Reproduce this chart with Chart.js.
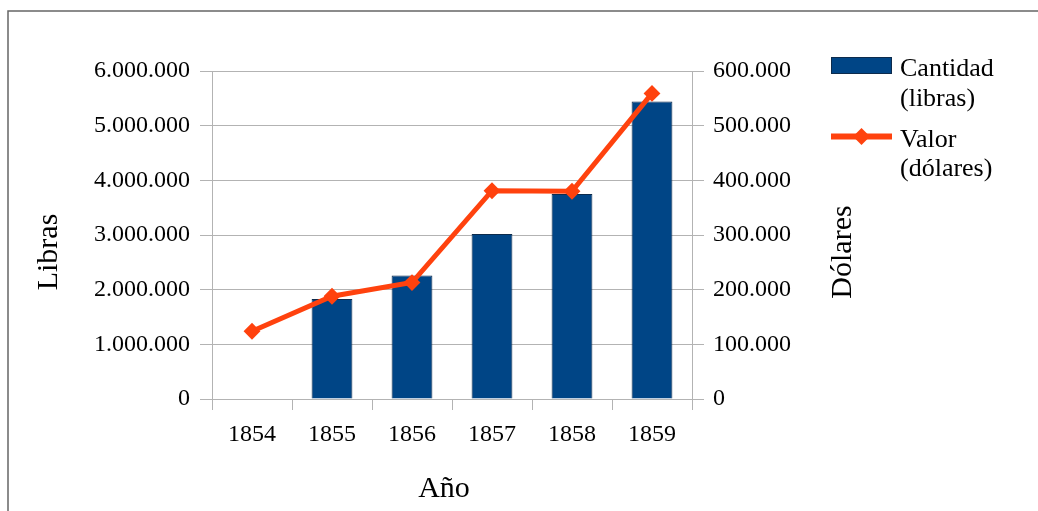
<!DOCTYPE html>
<html lang="es">
<head>
<meta charset="utf-8">
<title>Cantidad y valor por año</title>
<script src="https://cdn.jsdelivr.net/npm/chart.js@4/dist/chart.umd.min.js"></script>
<style>
  html, body { margin: 0; padding: 0; background: #ffffff; }
  #wrap { width: 1038px; height: 511px; }
</style>
</head>
<body>
<div id="wrap"><canvas id="chart" width="1038" height="511"></canvas></div>
<script>
// Years on the category axis
const years = ['1854', '1855', '1856', '1857', '1858', '1859'];
// Quantity in pounds (bars, left axis); no bar for 1854
const cantidadLibras = [null, 1830000, 2260000, 3020000, 3750000, 5440000];
// Value in dollars (line, right axis)
const valorDolares = [124000, 188000, 213000, 381000, 380000, 559000];

// Legend entries, one line of text per row
const legendCantidad = ['Cantidad', '(libras)'];
const legendValor = ['Valor', '(dólares)'];

// Axis titles
const titleLeft = 'Libras';
const titleRight = 'Dólares';
const titleBottom = 'Año';

const BAR_COLOR = '#004586';
const BAR_EDGE = '#0d2b4c';
const LINE_COLOR = '#ff420e';
const GRID = '#b3b3b3';
const SERIF = "'Liberation Serif', 'Times New Roman', serif";

// Thousands with dots: 6000000 -> 6.000.000
const fmt = v => Math.round(v).toString().replace(/\B(?=(\d{3})+(?!\d))/g, '.');

const decor = {
  id: 'decor',
  beforeDraw(chart) {
    const ctx = chart.ctx;
    ctx.save();
    ctx.strokeStyle = '#666666';
    ctx.lineWidth = 1.5;
    ctx.beginPath();
    ctx.moveTo(8, chart.height);
    ctx.lineTo(8, 11);
    ctx.lineTo(chart.width, 11);
    ctx.stroke();
    ctx.restore();
  },
  afterDraw(chart) {
    const ctx = chart.ctx;
    ctx.save();
    ctx.fillStyle = '#000000';

    // Axis titles
    ctx.font = '30px ' + SERIF;
    ctx.textAlign = 'center';
    ctx.textBaseline = 'middle';
    [[titleLeft, 49, 252], [titleRight, 843, 252]].forEach(([t, x, y]) => {
      ctx.save();
      ctx.translate(x, y);
      ctx.rotate(-Math.PI / 2);
      ctx.fillText(t, 0, 0);
      ctx.restore();
    });
    ctx.fillText(titleBottom, 444, 489);

    // Legend
    const ds = chart.data.datasets;
    ctx.fillStyle = ds[0].backgroundColor;
    ctx.fillRect(831, 57, 61, 17);
    ctx.strokeStyle = ds[0].borderColor;
    ctx.lineWidth = 1;
    ctx.strokeRect(831.5, 57.5, 60, 16);

    ctx.strokeStyle = ds[1].borderColor;
    ctx.lineWidth = 6;
    ctx.beginPath();
    ctx.moveTo(831, 136.5);
    ctx.lineTo(892, 136.5);
    ctx.stroke();
    ctx.fillStyle = ds[1].backgroundColor;
    ctx.beginPath();
    ctx.moveTo(861.5, 128);
    ctx.lineTo(870, 136.5);
    ctx.lineTo(861.5, 145);
    ctx.lineTo(853, 136.5);
    ctx.closePath();
    ctx.fill();

    ctx.fillStyle = '#000000';
    ctx.font = '26px ' + SERIF;
    ctx.textAlign = 'left';
    ctx.textBaseline = 'alphabetic';
    ctx.fillText(legendCantidad[0], 900, 76);
    ctx.fillText(legendCantidad[1], 900, 106);
    ctx.fillText(legendValor[0], 900, 147);
    ctx.fillText(legendValor[1], 900, 176);
    ctx.restore();
  }
};

new Chart(document.getElementById('chart'), {
  data: {
    labels: years,
    datasets: [
      {
        type: 'bar',
        label: legendCantidad.join(' '),
        data: cantidadLibras,
        yAxisID: 'y',
        backgroundColor: BAR_COLOR,
        borderColor: BAR_EDGE,
        borderWidth: 1,
        barPercentage: 0.51,
        categoryPercentage: 1,
        order: 2
      },
      {
        type: 'line',
        label: legendValor.join(' '),
        data: valorDolares,
        yAxisID: 'y1',
        borderColor: LINE_COLOR,
        backgroundColor: LINE_COLOR,
        borderWidth: 5,
        pointStyle: 'rectRot',
        pointRadius: 7,
        pointBorderWidth: 2,
        pointBackgroundColor: LINE_COLOR,
        pointBorderColor: LINE_COLOR,
        tension: 0,
        order: 1
      }
    ]
  },
  options: {
    responsive: false,
    animation: false,
    devicePixelRatio: 1,
    layout: { padding: { left: 10, top: 71, right: 186, bottom: 0 } },
    plugins: {
      legend: { display: false },
      tooltip: { enabled: false }
    },
    scales: {
      x: {
        offset: true,
        grid: {
          offset: true,
          drawOnChartArea: false,
          drawTicks: true,
          tickLength: 11,
          color: GRID
        },
        border: { color: GRID },
        ticks: { color: '#000', padding: 10, font: { family: SERIF, size: 24 } },
        afterFit: s => { s.height = 112; }
      },
      y: {
        position: 'left',
        min: 0,
        max: 6000000,
        grid: { color: GRID, tickLength: 12 },
        border: { color: GRID },
        ticks: {
          stepSize: 1000000,
          padding: 10,
          color: '#000',
          font: { family: SERIF, size: 24 },
          callback: v => fmt(v)
        },
        afterFit: s => { s.width = 202; }
      },
      y1: {
        position: 'right',
        min: 0,
        max: 600000,
        grid: { drawOnChartArea: false, color: GRID, tickLength: 12 },
        border: { color: GRID },
        ticks: {
          stepSize: 100000,
          padding: 9,
          color: '#000',
          font: { family: SERIF, size: 24 },
          callback: v => fmt(v)
        },
        afterFit: s => { s.width = 160; }
      }
    }
  },
  plugins: [decor]
});
</script>
</body>
</html>
